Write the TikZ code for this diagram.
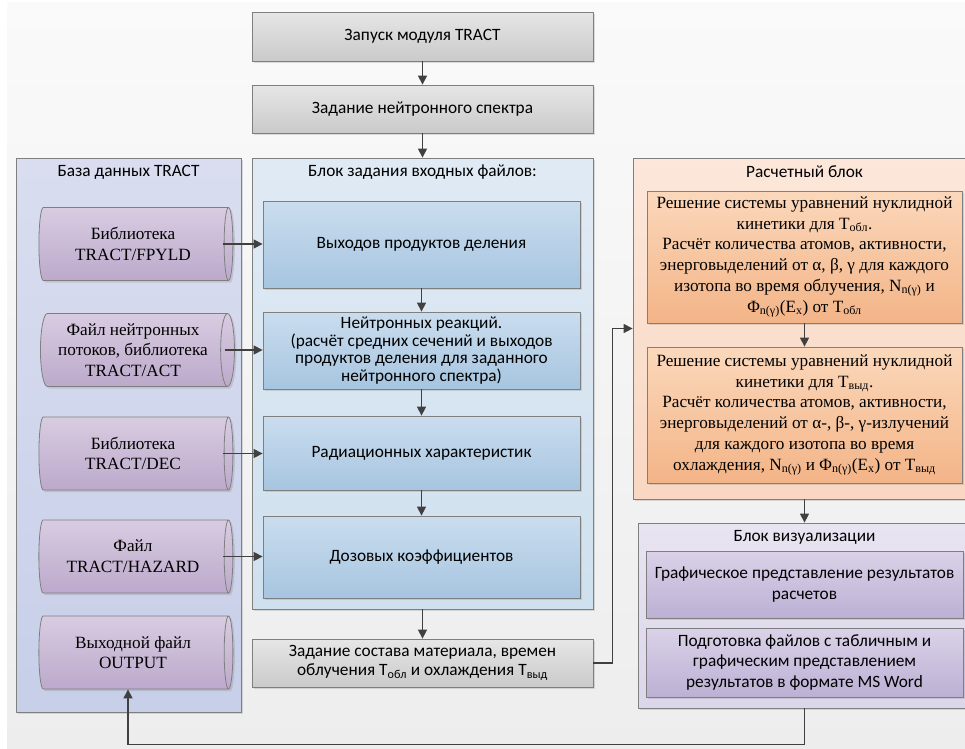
\documentclass[tikz,border=0pt]{standalone}
\usepackage{fontspec}
\setmainfont{Liberation Serif}
\setsansfont{Carlito}
\usepackage{tikz}
\usetikzlibrary{positioning,shapes.geometric,arrows.meta,calc,shadows}

\definecolor{edgeclr}{HTML}{7F7F7F}
\definecolor{lineclr}{HTML}{404040}
\definecolor{grayA}{HTML}{E6E6E6}
\definecolor{grayB}{HTML}{CACACA}
\definecolor{dbA}{HTML}{D9DDEF}
\definecolor{dbB}{HTML}{C7CFE9}
\definecolor{cylA}{HTML}{D8CCE1}
\definecolor{cylB}{HTML}{BCA9CB}
\definecolor{inpA}{HTML}{E0EAF4}
\definecolor{inpB}{HTML}{CFE0EE}
\definecolor{blueA}{HTML}{CADDEE}
\definecolor{blueB}{HTML}{A6C5E0}
\definecolor{calcA}{HTML}{FCE7DA}
\definecolor{calcB}{HTML}{F9D7C2}
\definecolor{orA}{HTML}{FBD8BB}
\definecolor{orB}{HTML}{F3B487}
\definecolor{vizA}{HTML}{E8E4F1}
\definecolor{vizB}{HTML}{DCD6EA}
\definecolor{purA}{HTML}{DAD2E8}
\definecolor{purB}{HTML}{BCB0D4}

\begin{document}
\begin{tikzpicture}[x=1pt, y=-1pt, >={Triangle[length=9pt, width=9pt]},
  sans/.style={font=\sffamily\fontsize{17.3}{20.5}\selectfont},
  serif/.style={font=\fontsize{17.2}{20.7}\selectfont},
  shad/.style={drop shadow={shadow xshift=2pt, shadow yshift=-2pt, opacity=0.25}},
  panel/.style={draw=edgeclr, line width=0.8pt, shad, inner sep=0pt},
  box/.style={draw=edgeclr, line width=0.8pt, shad, align=center, inner sep=2pt},
  graybox/.style={box, sans, top color=grayA, bottom color=grayB, minimum width=341pt},
  bluebox/.style={box, sans, top color=blueA, bottom color=blueB, minimum width=317pt},
  orbox/.style={box, serif, top color=orA, bottom color=orB, minimum width=315pt},
  purbox/.style={box, sans, top color=purA, bottom color=purB, minimum width=317pt},
  dbfile/.style={cylinder, aspect=0.25, draw=edgeclr, line width=0.8pt, shad, serif, align=center,
    top color=cylA, bottom color=cylB, minimum height=194pt, minimum width=73pt, inner sep=1pt},
  arr/.style={->, draw=lineclr, line width=1.3pt},
  title/.style={sans, inner sep=0pt}
]

% Frame and background
\useasboundingbox (0,0) rectangle (965,748);
\shade[top color=white!98!black, bottom color=white!93!black] (7,2) rectangle (965,748);

% Top of the chain
\node[graybox, minimum height=49pt] (start) at (422.5,36.5) {Запуск модуля TRACT};
\node[graybox, minimum height=48pt] (spec) at (422.5,109) {Задание нейтронного спектра};

% Panels
\node[panel, top color=dbA, bottom color=dbB, minimum width=225pt, minimum height=554pt] (db) at (128.5,435) {};
\node[title] (dbtitle) at (128.5,172) {База данных TRACT};
\node[panel, top color=inpA, bottom color=inpB, minimum width=341pt, minimum height=451pt] (inp) at (422.5,383.5) {};
\node[title] (inptitle) at (422.5,172) {Блок задания входных файлов:};
\node[panel, top color=calcA, bottom color=calcB, minimum width=343pt, minimum height=341pt] (calc) at (804.5,328.5) {};
\node[title] (calctitle) at (804.5,172) {Расчетный блок};
\node[panel, top color=vizA, bottom color=vizB, minimum width=333pt, minimum height=185pt] (viz) at (804.5,615.5) {};
\node[title] (viztitle) at (804.5,537) {Блок визуализации};

% Input files
\node[bluebox, minimum height=87pt] (b1) at (421.5,244.5) {Выходов продуктов деления};
\node[bluebox, minimum height=77pt, font=\sffamily\fontsize{17.3}{17.4}\selectfont] (b2) at (421.5,350.5) {Нейтронных реакций.\\(расчёт средних сечений и выходов\\продуктов деления для заданного\\нейтронного спектра)};
\node[bluebox, minimum height=74pt] (b3) at (421.5,453) {Радиационных характеристик};
\node[bluebox, minimum height=82pt] (b4) at (421.5,557) {Дозовых коэффициентов};
\node[graybox, minimum height=48pt, font=\sffamily\fontsize{17.3}{19.3}\selectfont] (mat) at (422.5,663) {Задание состава материала, времен\\облучения T\textsubscript{обл} и охлаждения T\textsubscript{выд}};

% Data base files
\node[dbfile] (c1) at (133,244) {Библиотека\\TRACT/FPYLD};
\node[dbfile] (c2) at (133,350) {Файл нейтронных\\потоков, библиотека\\TRACT/ACT};
\node[dbfile] (c3) at (133,453.5) {Библиотека\\TRACT/DEC};
\node[dbfile] (c4) at (133,556.5) {Файл\\TRACT/HAZARD};
\node[dbfile] (c5) at (133,652.5) {Выходной файл\\OUTPUT};

% Calculation
\node[orbox, minimum height=132pt] (o1) at (804.5,257) {Решение системы уравнений нуклидной\\кинетики для T\textsubscript{обл}.\\Расчёт количества атомов, активности,\\энерговыделений от α, β, γ для каждого\\изотопа во время облучения, N\textsubscript{n(γ)} и\\Φ\textsubscript{n(γ)}(E\textsubscript{x}) от T\textsubscript{обл}};
\node[orbox, minimum height=136pt] (o2) at (804.5,415) {Решение системы уравнений нуклидной\\кинетики для T\textsubscript{выд}.\\Расчёт количества атомов, активности,\\энерговыделений от α-, β-, γ-излучений\\для каждого изотопа во время\\охлаждения, N\textsubscript{n(γ)} и Φ\textsubscript{n(γ)}(E\textsubscript{x}) от T\textsubscript{выд}};

% Visualisation
\node[purbox, minimum height=67pt] (v1) at (804.5,584.5) {Графическое представление результатов\\расчетов};
\node[purbox, minimum height=69pt] (v2) at (804.5,662.5) {Подготовка файлов с табличным и\\графическим представлением\\результатов в формате MS Word};

% Connectors
\draw[arr] (start) -- (spec);
\draw[arr] (spec) -- (inp);
\draw[arr] (b1) -- (b2);
\draw[arr] (b2) -- (b3);
\draw[arr] (b3) -- (b4);
\draw[arr] (inp) -- (mat);
\foreach \i in {1,...,4}
  \draw[arr] ([xshift=-10pt]c\i.east) -- (c\i.east -| b\i.west);
\draw[arr] (mat.east) -- ++(19,0) |- (calc.west);
\draw[arr] (o1) -- (o2);
\draw[arr] (calc) -- (viz);
\draw[arr] (viz.south) -- ++(0,36) -| ([xshift=-5pt]c5.south);

\end{tikzpicture}
\end{document}
